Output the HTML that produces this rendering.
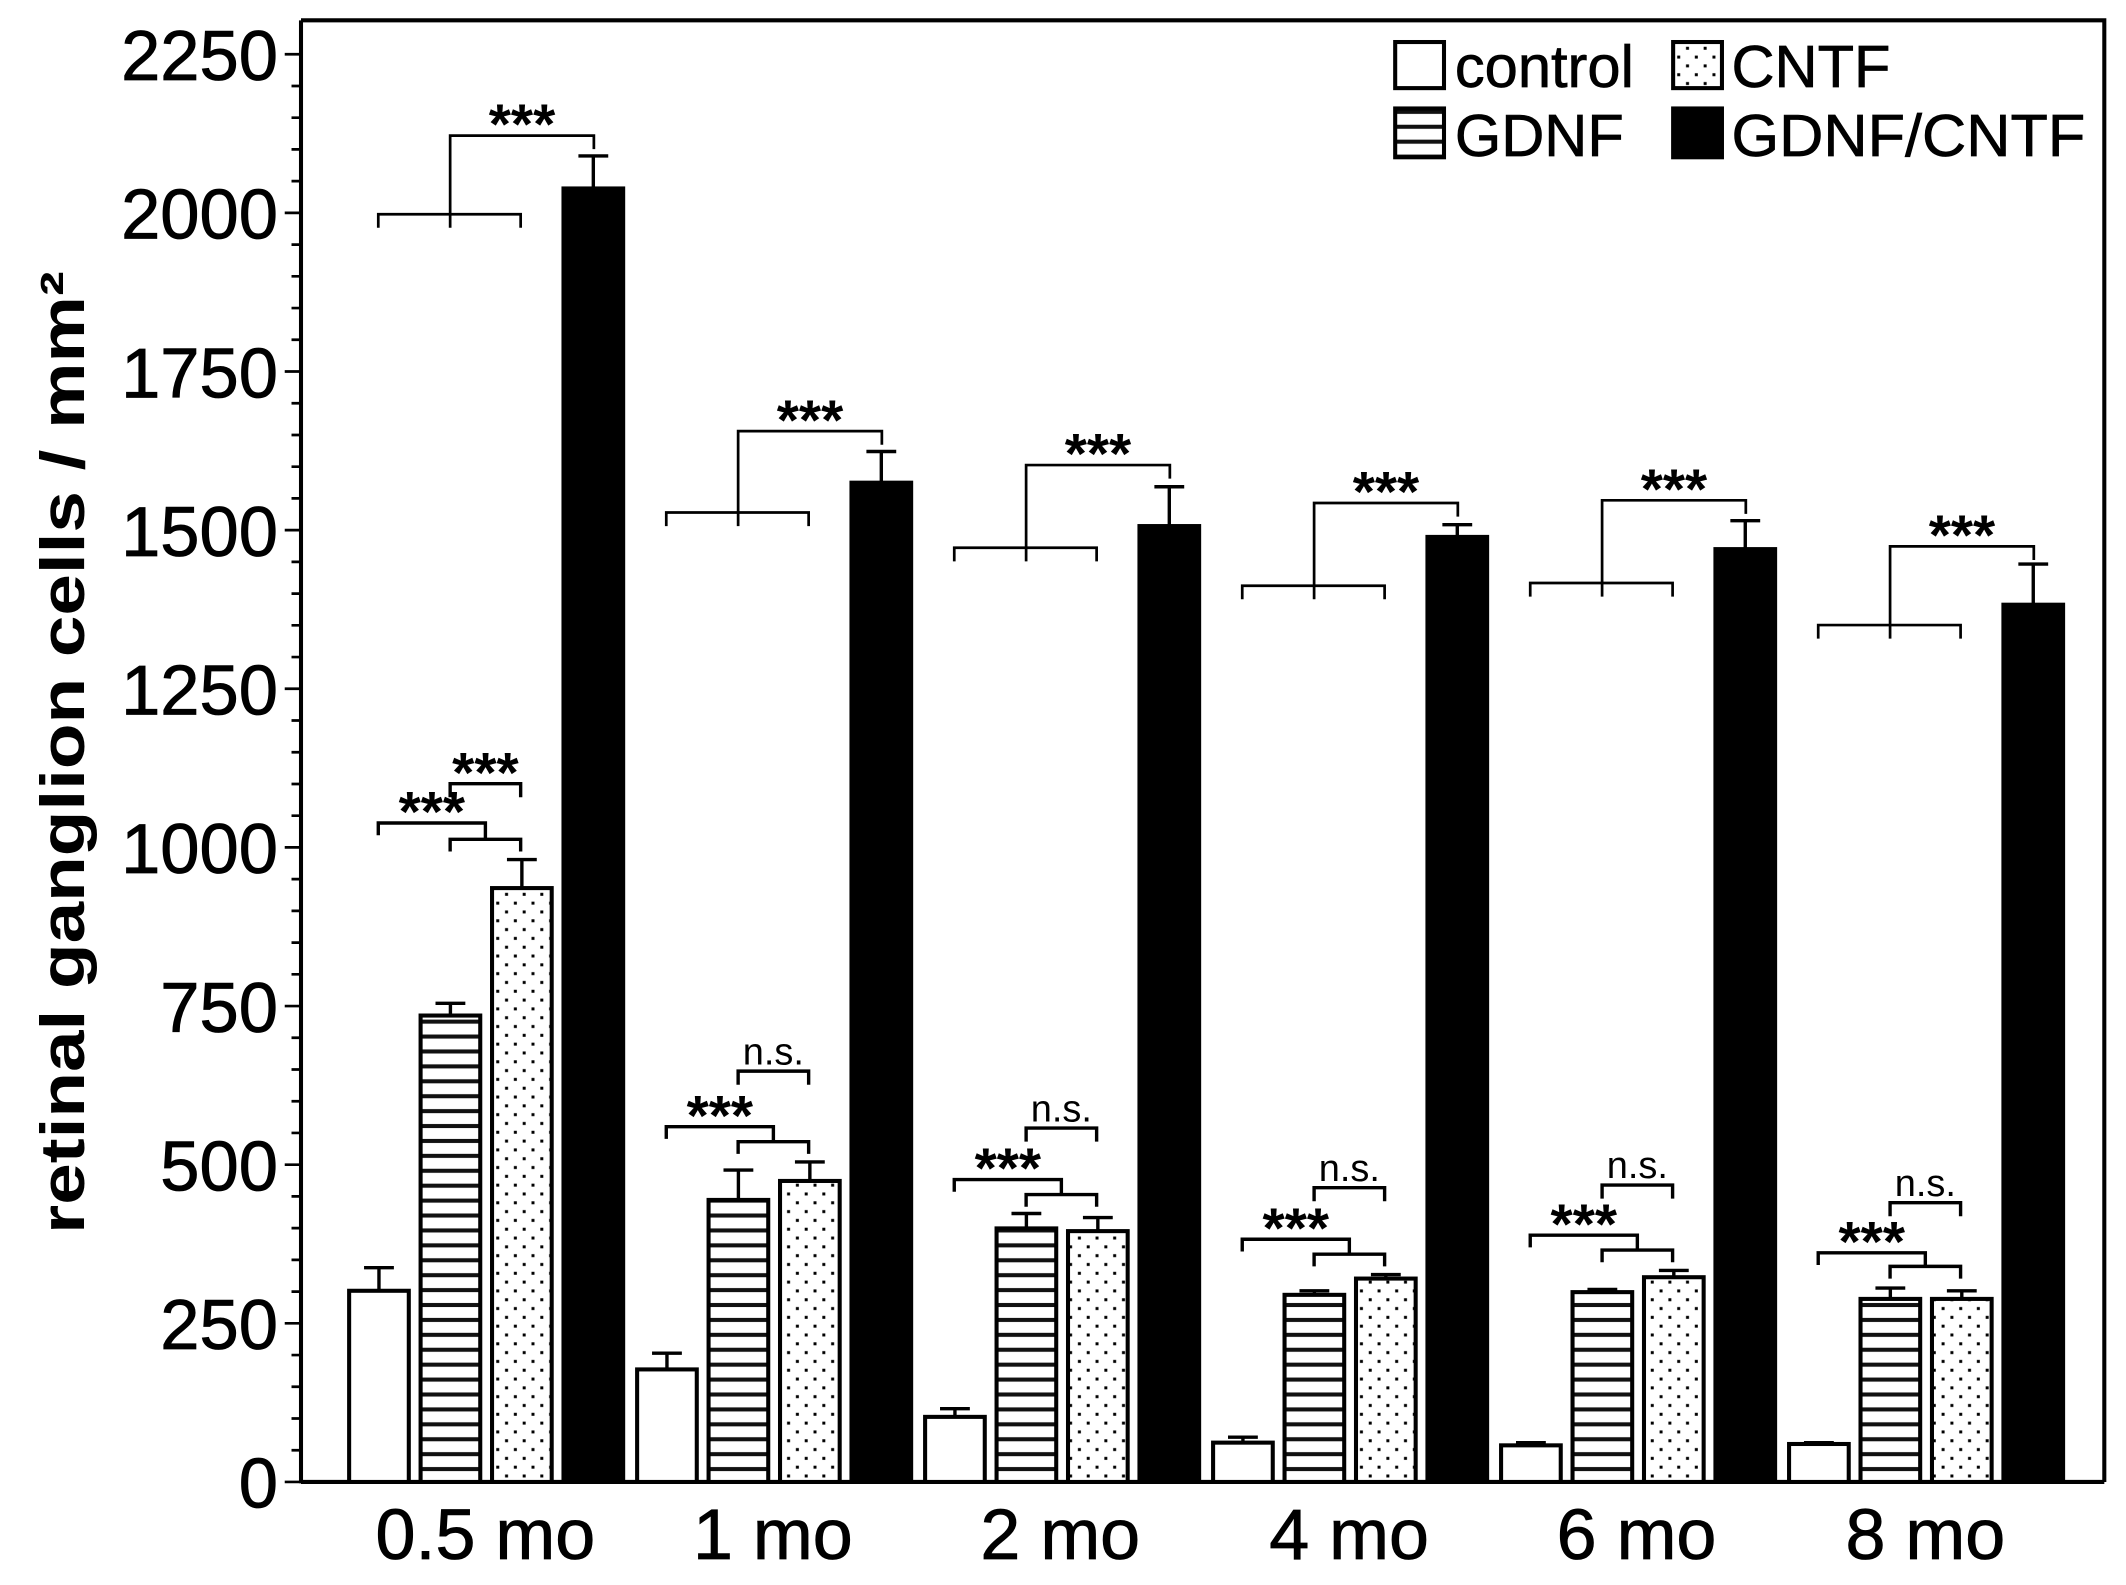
<!DOCTYPE html>
<html><head><meta charset="utf-8"><style>
html,body{margin:0;padding:0;background:#fff;}
svg{display:block;}
text{font-family:"Liberation Sans",Arial,sans-serif;fill:#000;}
</style></head><body>
<svg width="2126" height="1585" viewBox="0 0 1568 1169" preserveAspectRatio="none" xmlns="http://www.w3.org/2000/svg">
<defs>
<pattern id="hs" patternUnits="userSpaceOnUse" width="20" height="11"><rect width="20" height="11" fill="#fff"/><rect y="4" width="20" height="3" fill="#111"/></pattern>
<pattern id="dt" patternUnits="userSpaceOnUse" width="13" height="13"><rect width="13" height="13" fill="#fff"/><rect x="2" y="2" width="2.2" height="2.2" fill="#000"/><rect x="8.5" y="8.5" width="2.2" height="2.2" fill="#000"/></pattern>
</defs>
<g stroke="#000" fill="none">
<path d="M222 15H1552V1093M222 15V1094M222 1093H1552" stroke-width="3"/>
<path stroke-width="2" d="M210 1093H222M210 976H222M210 859H222M210 742H222M210 625H222M210 508H222M210 391H222M210 274H222M210 157H222M210 40H222
M215 1069.6H222M215 1046.2H222M215 1022.8H222M215 999.4H222M215 952.6H222M215 929.2H222M215 905.8H222M215 882.4H222M215 835.6H222M215 812.2H222M215 788.8H222M215 765.4H222M215 718.6H222M215 695.2H222M215 671.8H222M215 648.4H222M215 601.6H222M215 578.2H222M215 554.8H222M215 531.4H222M215 484.6H222M215 461.2H222M215 437.8H222M215 414.4H222M215 367.6H222M215 344.2H222M215 320.8H222M215 297.4H222M215 250.6H222M215 227.2H222M215 203.8H222M215 180.4H222M215 133.6H222M215 110.2H222M215 86.8H222M215 63.4H222"/>
<path stroke-width="2.5" d="
M279.5 952V935M268.5 935H290.5 M332.2 749V740M321.2 740H343.2 M384.9 655V634M373.9 634H395.9 M437.6 139V115M426.6 115H448.6
M491.9 1010V998M480.9 998H502.9 M544.6 885V863M533.6 863H555.6 M597.3 871V857M586.3 857H608.3 M650 356V333M639 333H661
M704.3 1045V1039M693.3 1039H715.3 M757 906V895M746 895H768 M809.7 908V898M798.7 898H820.7 M862.4 388V359M851.4 359H873.4
M916.7 1064V1060M905.7 1060H927.7 M969.4 955V952M958.4 952H980.4 M1022.1 943V940M1011.1 940H1033.1 M1074.8 396V387M1063.8 387H1085.8
M1129.1 1066V1064M1118.1 1064H1140.1 M1181.8 953V951M1170.8 951H1192.8 M1234.5 942V937M1223.5 937H1245.5 M1287.2 405V384M1276.2 384H1298.2
M1341.5 1065V1064M1330.5 1064H1352.5 M1394.2 958V950M1383.2 950H1405.2 M1446.9 958V952M1435.9 952H1457.9 M1499.6 446V416M1488.6 416H1510.6"/>
<g stroke-width="3">
<rect x="257.5" y="952" width="44" height="141" fill="#fff"/>
<rect x="310.2" y="749" width="44" height="344" fill="url(#hs)"/>
<rect x="362.9" y="655" width="44" height="438" fill="url(#dt)"/>
<rect x="415.6" y="139" width="44" height="954" fill="#000"/>
<rect x="469.9" y="1010" width="44" height="83" fill="#fff"/>
<rect x="522.6" y="885" width="44" height="208" fill="url(#hs)"/>
<rect x="575.3" y="871" width="44" height="222" fill="url(#dt)"/>
<rect x="628" y="356" width="44" height="737" fill="#000"/>
<rect x="682.3" y="1045" width="44" height="48" fill="#fff"/>
<rect x="735" y="906" width="44" height="187" fill="url(#hs)"/>
<rect x="787.7" y="908" width="44" height="185" fill="url(#dt)"/>
<rect x="840.4" y="388" width="44" height="705" fill="#000"/>
<rect x="894.7" y="1064" width="44" height="29" fill="#fff"/>
<rect x="947.4" y="955" width="44" height="138" fill="url(#hs)"/>
<rect x="1000.1" y="943" width="44" height="150" fill="url(#dt)"/>
<rect x="1052.8" y="396" width="44" height="697" fill="#000"/>
<rect x="1107.1" y="1066" width="44" height="27" fill="#fff"/>
<rect x="1159.8" y="953" width="44" height="140" fill="url(#hs)"/>
<rect x="1212.5" y="942" width="44" height="151" fill="url(#dt)"/>
<rect x="1265.2" y="405" width="44" height="688" fill="#000"/>
<rect x="1319.5" y="1065" width="44" height="28" fill="#fff"/>
<rect x="1372.2" y="958" width="44" height="135" fill="url(#hs)"/>
<rect x="1424.9" y="958" width="44" height="135" fill="url(#dt)"/>
<rect x="1477.6" y="446" width="44" height="647" fill="#000"/>
</g>
<path stroke-width="2" d="M279 168V158H384V168M332 168V100H438V110 M491.4 388V378H596.4V388M544.4 388V318H650.4V328 M703.8 414V404H808.8V414M756.8 414V343H862.8V353 M916.2 442V432H1021.2V442M969.2 442V371H1075.2V381 M1128.6 440V430H1233.6V440M1181.6 440V369H1287.6V379 M1341 471V461H1446V471M1394 471V403H1500V413"/>
<path stroke-width="2.5" d="M332 628V619H384V628M279 616V607H358V619M332 588V578H384V588
M544.4 851V842H596.4V851M491.4 840V831H570.4V842M544.4 800V790H596.4V800
M756.8 890V881H808.8V890M703.8 879V870H782.8V881M756.8 842V832H808.8V842
M969.2 934V925H1021.2V934M916.2 923V914H995.2V925M969.2 886V876H1021.2V886
M1181.6 931V922H1233.6V931M1128.6 920V911H1207.6V922M1181.6 884V874H1233.6V884
M1394 943V934H1446V943M1341 933V924H1420V934M1394 897V887H1446V897"/>
</g>
<g font-size="42" text-anchor="middle" font-weight="bold">
<text x="385" y="106">***</text><text x="318.5" y="613">***</text><text x="358" y="584">***</text>
<text x="597.4" y="324">***</text><text x="530.9" y="837">***</text>
<text x="809.8" y="349">***</text><text x="743.3" y="876">***</text>
<text x="1022.2" y="377">***</text><text x="955.7" y="920">***</text>
<text x="1234.6" y="375">***</text><text x="1168.1" y="917">***</text>
<text x="1447" y="409">***</text><text x="1380.5" y="930">***</text>
</g>
<g font-size="28" text-anchor="middle">
<text x="570.4" y="785">n.s.</text><text x="782.8" y="827">n.s.</text><text x="995.2" y="871">n.s.</text><text x="1207.6" y="869">n.s.</text><text x="1420" y="882">n.s.</text>
</g>
<g font-size="52" text-anchor="end" stroke="#000" stroke-width="0.6">
<text x="205" y="59">2250</text>
<text x="205" y="176">2000</text>
<text x="205" y="293">1750</text>
<text x="205" y="410">1500</text>
<text x="205" y="527">1250</text>
<text x="205" y="644">1000</text>
<text x="205" y="761">750</text>
<text x="205" y="878">500</text>
<text x="205" y="995">250</text>
<text x="205" y="1112">0</text>
</g>
<text transform="translate(62,555) rotate(-90)" font-size="46" font-weight="bold" text-anchor="middle" textLength="710" lengthAdjust="spacingAndGlyphs">retinal ganglion cells / mm²</text>
<g font-size="53" text-anchor="middle" stroke="#000" stroke-width="0.6">
<text x="358" y="1150">0.5 mo</text>
<text x="570" y="1150">1 mo</text>
<text x="782" y="1150">2 mo</text>
<text x="995" y="1150">4 mo</text>
<text x="1207" y="1150">6 mo</text>
<text x="1420" y="1150">8 mo</text>
</g>
<g stroke="#000" stroke-width="3">
<rect x="1029" y="31" width="36" height="34" fill="#fff"/>
<rect x="1234" y="31" width="36" height="34" fill="url(#dt)"/>
<rect x="1029" y="80" width="36" height="36" fill="url(#hs)"/>
<rect x="1234" y="80" width="36" height="36" fill="#000"/>
</g>
<g font-size="44" stroke="#000" stroke-width="0.5">
<text x="1073" y="64">control</text>
<text x="1277" y="64">CNTF</text>
<text x="1073" y="115">GDNF</text>
<text x="1277" y="115" textLength="261" lengthAdjust="spacingAndGlyphs">GDNF/CNTF</text>
</g>
</svg>
</body></html>
